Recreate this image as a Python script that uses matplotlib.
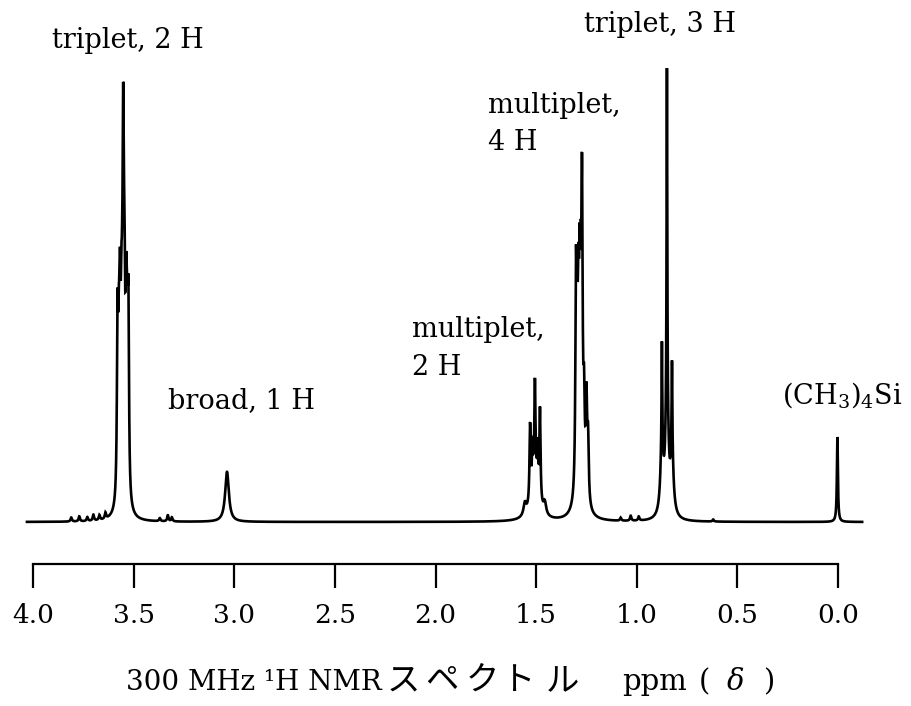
import numpy as np
import matplotlib
matplotlib.use("Agg")
import matplotlib.pyplot as plt
from matplotlib.transforms import IdentityTransform

# ---------------- data ----------------
# ppm axis
tick_values = [4.0, 3.5, 3.0, 2.5, 2.0, 1.5, 1.0, 0.5, 0.0]
tick_labels = ["4.0", "3.5", "3.0", "2.5", "2.0", "1.5", "1.0", "0.5", "0.0"]
spectrum_range = [4.03, -0.12]          # ppm span of the recorded trace

# triplet 2 H  (O-CH2, ~3.55 ppm)
tri2_ppm = [3.580, 3.574, 3.570, 3.567, 3.561, 3.557, 3.552, 3.548, 3.545, 3.538, 3.535, 3.531, 3.526, 3.552]
tri2_hgt = [170, 100, 80, 120, 115, 80, 285, 80, 120, 115, 80, 100, 170, 25]
tri2_hw  = [0.0035] * 13 + [0.015]

# broad 1 H  (OH, ~3.04 ppm)
oh_ppm = [3.036]
oh_hgt = [50]
oh_hw  = [0.011]

# multiplet 2 H (~1.50 ppm)
m2_ppm = [1.556, 1.530, 1.518, 1.506, 1.493, 1.481, 1.457, 1.506]
m2_hgt = [12, 77, 45, 105, 45, 93, 12, 28]
m2_hw  = [0.008, 0.0035, 0.0035, 0.0035, 0.0035, 0.0035, 0.008, 0.025]

# multiplet 4 H (~1.28 ppm)
m4_ppm = [1.302, 1.296, 1.290, 1.284, 1.278, 1.272, 1.262, 1.250, 1.242, 1.280]
m4_hgt = [202, 120, 140, 150, 130, 264, 80, 95, 60, 40]
m4_hw  = [0.0035, 0.0035, 0.0035, 0.0035, 0.0035, 0.0035, 0.004, 0.004, 0.004, 0.02]

# triplet 3 H (CH3, ~0.85 ppm)
tri3_ppm = [0.875, 0.850, 0.825, 0.875, 0.850, 0.825]
tri3_hgt = [105, 341, 91, 60, 100, 55]
tri3_hw  = [0.002, 0.002, 0.002, 0.009, 0.009, 0.009]

# TMS reference (0.0 ppm)
tms_ppm = [0.003]
tms_hgt = [85]
tms_hw  = [0.003]

# small baseline features
noise_ppm = [3.81, 3.77, 3.73, 3.70, 3.67, 3.64, 3.37, 3.33, 3.31, 1.08, 1.03, 0.99, 0.62]
noise_hgt = [4, 5, 4, 6, 5, 6, 3, 6, 4, 3, 5, 4, 2]
noise_hw  = [0.004] * 13

labels = ["triplet, 2 H", "broad, 1 H", "multiplet,", "2 H",
          "multiplet,", "4 H", "triplet, 3 H", r"(CH$_3$)$_4$Si"]

# ---------------- layout (pixels of the 911x706 canvas) ----------------
W, H = 911, 706
X40, X00 = 33, 838          # pixel x of 4.0 and 0.0 ticks
AX_Y = 564                   # pixel y of the ruler line
BASE_Y = 522                 # pixel y of spectrum baseline
label_left_px = [52, 168, 412, 412, 488, 488, 584, 782]
label_base_px = [48, 408, 337, 375, 113, 150, 32, 403]

plt.rcParams["font.family"] = ["DejaVu Serif", "Noto Sans CJK JP"]
plt.rcParams["mathtext.fontset"] = "custom"
plt.rcParams["mathtext.rm"] = "DejaVu Serif"
plt.rcParams["mathtext.it"] = "DejaVu Serif:italic"

fig = plt.figure(figsize=(W / 100, H / 100), dpi=100)
ax = fig.add_axes([X40 / W, (H - AX_Y) / H, (X00 - X40) / W, AX_Y / H])
ax.set_xlim(4.0, 0.0)
ax.set_ylim(BASE_Y - AX_Y, BASE_Y)   # intensity in pixel units above baseline
ax.patch.set_visible(False)

# ---------------- spectrum ----------------
ppm = np.linspace(spectrum_range[0], spectrum_range[1], 12000)
groups = [(tri2_ppm, tri2_hgt, tri2_hw), (oh_ppm, oh_hgt, oh_hw),
          (m2_ppm, m2_hgt, m2_hw), (m4_ppm, m4_hgt, m4_hw),
          (tri3_ppm, tri3_hgt, tri3_hw), (tms_ppm, tms_hgt, tms_hw),
          (noise_ppm, noise_hgt, noise_hw)]
intensity = np.zeros_like(ppm)
for centres, heights, widths in groups:
    for c, h, w in zip(centres, heights, widths):
        intensity += h * w ** 2 / ((ppm - c) ** 2 + w ** 2)

ax.plot(ppm, intensity, color="black", lw=1.9, clip_on=False, solid_joinstyle="miter")

# ---------------- ruler axis ----------------
for side in ("top", "left", "right"):
    ax.spines[side].set_visible(False)
ax.spines["bottom"].set_linewidth(1.6)
ax.set_yticks([])
ax.set_xticks(tick_values)
ax.set_xticklabels(tick_labels)
ax.tick_params(axis="x", direction="out", length=17, width=1.6, pad=11,
               labelsize=19)

# ---------------- annotations ----------------
for txt, xl, yb in zip(labels, label_left_px, label_base_px):
    ax.text(4.0 - (xl - X40) * 4.0 / (X00 - X40), BASE_Y - yb, txt,
            fontsize=19.5, ha="left", va="baseline", clip_on=False)

# ---------------- axis caption ----------------
cap_base = H - 690
idt = IdentityTransform()
fig.text(126, cap_base, "300 MHz ¹H NMR", transform=idt, fontsize=20,
         ha="left", va="baseline")
for ch, xc in zip("スペクトル", [403, 442, 482, 518, 562]):
    fig.text(xc, cap_base, ch, transform=idt, fontsize=24, ha="center",
             va="baseline", family=["Noto Sans CJK JP"])
fig.text(622, cap_base, "ppm", transform=idt, fontsize=21, ha="left", va="baseline")
fig.text(699, cap_base, "(", transform=idt, fontsize=21, ha="left", va="baseline")
fig.text(727, cap_base, "δ", transform=idt, fontsize=21, ha="left", va="baseline",
         style="italic")
fig.text(764, cap_base, ")", transform=idt, fontsize=21, ha="left", va="baseline")

fig.savefig("out.png", dpi=100)
